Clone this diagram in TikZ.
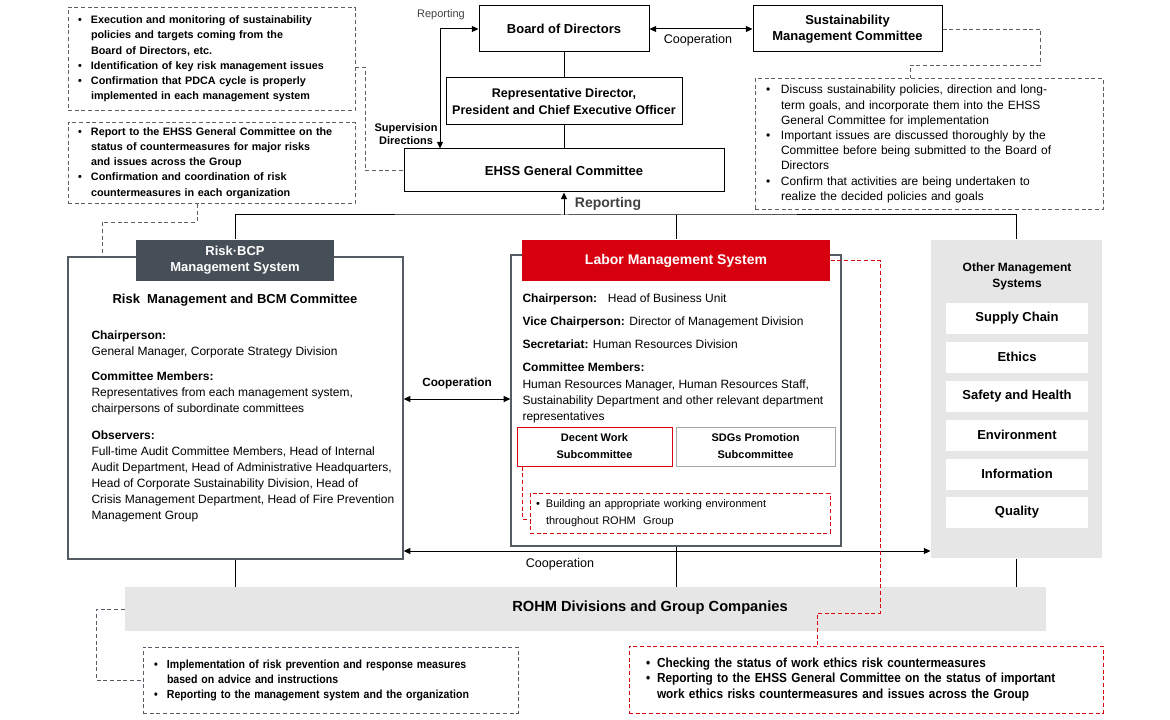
\documentclass[tikz,border=0pt]{standalone}
\usepackage{fontspec}
\setmainfont{Liberation Sans}
\newfontfamily\condfont{Liberation Sans}[FakeStretch=0.9]
\usetikzlibrary{arrows.meta}
\definecolor{rohmred}{HTML}{D7000F}
\definecolor{slate}{HTML}{464F57}
\definecolor{panel}{HTML}{E6E6E6}
\definecolor{framegray}{HTML}{555C66}
\definecolor{dashgray}{HTML}{5F5F5F}
\definecolor{labelgray}{HTML}{404040}
\setlength\parindent{0pt}
\newlength\bulw
\setlength\bulw{9.75pt}
\newcommand\bulitem{\makebox[\bulw][l]{\textbullet}}
\newcommand\bulcont{\hspace*{\bulw}}

\begin{document}
\begin{tikzpicture}[x=0.75pt,y=-0.75pt,line width=0.75pt,
  >={Triangle[length=5pt,width=4.5pt]},
  sz/.style 2 args={minimum width=#1*0.75pt,minimum height=#2*0.75pt},
  topbox/.style={draw,inner sep=0pt,align=center,font=\bfseries\fontsize{9.75}{12}\selectfont},
  sysframe/.style={draw=framegray,line width=1pt,inner sep=0pt},
  note/.style={draw=dashgray,dash pattern=on 3pt off 2pt,line width=0.7pt,inner sep=0pt,align=left,font=\bfseries\fontsize{8.1}{11.4}\selectfont},
  rednote/.style={note,draw=rohmred},
  bw/.style={execute at begin node={\setlength\bulw{#1}}},
  gdash/.style={draw=dashgray,dash pattern=on 3pt off 2pt,line width=0.7pt},
  rdash/.style={gdash,draw=rohmred},
  lbl/.style={inner sep=0pt,font=\fontsize{9.4}{11}\selectfont},
  head/.style={inner sep=0pt,align=center,text=white,font=\bfseries\fontsize{9.75}{12}\selectfont},
  body/.style={inner sep=0pt,align=left,anchor=north west,font=\fontsize{9}{12}\selectfont},
  sysitem/.style={fill=white,inner sep=0pt,sz={142}{31},font=\bfseries\fontsize{9.75}{12}\selectfont},
  subbox/.style={draw,inner sep=0pt,align=center,sz={155}{39},font=\bfseries\fontsize{8.25}{12.75}\selectfont}]
  \useasboundingbox (0,0) rectangle (1170,720);

  \node[topbox,sz={170}{46}] (board) at (564,29) {Board of Directors};
  \node[topbox,sz={189}{46}] (smc) at (847.5,29) {Sustainability\\Management Committee};
  \node[topbox,sz={236}{47},font=\bfseries\fontsize{9.4}{12.5}\selectfont] (ceo) at (564,101.5) {Representative Director,\\President and Chief Executive Officer};
  \node[topbox,sz={320}{43}] (ehss) at (564,170.5) {EHSS General Committee};

  \node[note,sz={287}{103},text width=200.25pt] (goals) at (211.5,59) {\bulitem Execution and monitoring of sustainability\\ \bulcont policies and targets coming from the\\ \bulcont Board of Directors, etc.\\ \bulitem Identification of key risk management issues\\ \bulitem Confirmation that PDCA cycle is properly\\ \bulcont implemented in each management system};
  \node[note,sz={287}{81},text width=200.25pt] (report) at (211.5,163) {\bulitem Report to the EHSS General Committee on the\\ \bulcont status of countermeasures for major risks\\ \bulcont and issues across the Group\\ \bulitem Confirmation and coordination of risk\\ \bulcont countermeasures in each organization};
  \node[note,bw=11.25pt,sz={348}{131},text width=244.5pt,font=\fontsize{9}{11.4}\selectfont] (discuss) at (929,144) {\bulitem Discuss sustainability policies, direction and long-\\ \bulcont term goals, and incorporate them into the EHSS\\ \bulcont General Committee for implementation\\ \bulitem Important issues are discussed thoroughly by the\\ \bulcont Committee before being submitted to the Board of\\ \bulcont Directors\\ \bulitem Confirm that activities are being undertaken to\\ \bulcont realize the decided policies and goals};

  \node[sysframe,sz={335}{302}] (risk) at (235.5,408) {};
  \node[head,fill=slate,sz={198}{41}] (riskhd) at (235,260.5) {Risk·BCP\\Management System};
  \node[inner sep=0pt,font=\bfseries\fontsize{9.75}{12}\selectfont] (bcm) at (235,300) {Risk~ Management and BCM Committee};
  \node[body] (riskbody) at (91,330.5) {\textbf{Chairperson:}\\
    General Manager, Corporate Strategy Division\\[6.75pt]
    \textbf{Committee Members:}\\
    Representatives from each management system,\\
    chairpersons of subordinate committees\\[8pt]
    \textbf{Observers:}\\
    Full-time Audit Committee Members, Head of Internal\\
    Audit Department, Head of Administrative Headquarters,\\
    Head of Corporate Sustainability Division, Head of\\
    Crisis Management Department, Head of Fire Prevention\\
    Management Group};

  \node[sysframe,sz={330}{291}] (labor) at (676,400.5) {};
  \node[head,fill=rohmred,sz={308}{41},font=\bfseries\fontsize{10.5}{12}\selectfont] (laborhd) at (676,260.5) {Labor Management System};
  \node[body] (laborbody) at (522,293.5) {\textbf{Chairperson:}\hspace{8pt}Head of Business Unit\\[5.25pt]
    \textbf{Vice Chairperson:} Director of Management Division\\[5.25pt]
    \textbf{Secretariat:} Human Resources Division\\[5.25pt]
    \textbf{Committee Members:}\\[0.75pt]
    Human Resources Manager, Human Resources Staff,\\
    Sustainability Department and other relevant department\\
    representatives};
  \node[subbox,draw=rohmred] (decent) at (594.5,446.5) {Decent Work\\Subcommittee};
  \node[subbox,draw=gray!70,sz={159}{39}] (sdgs) at (755.5,446.5) {SDGs Promotion\\Subcommittee};
  \node[rednote,bw=7.5pt,sz={300}{40},text width=216pt,font=\fontsize{8.25}{12.75}\selectfont] (workenv) at (680,513) {\bulitem Building an appropriate working environment\\ \bulcont throughout ROHM~ Group};

  \node[fill=panel,inner sep=0pt,sz={171}{318}] (others) at (1016.5,399) {};
  \node[inner sep=0pt,align=center,font=\bfseries\fontsize{9}{12}\selectfont] (othtitle) at (1017,276) {Other Management\\Systems};
  \node[sysitem] (supply) at (1017,318.5) {Supply Chain};
  \node[sysitem] (ethics) at (1017,357) {Ethics};
  \node[sysitem] (safety) at (1017,396) {Safety and Health};
  \node[sysitem] (environ) at (1017,435) {Environment};
  \node[sysitem] (info) at (1017,474) {Information};
  \node[sysitem] (quality) at (1017,512.5) {Quality};

  \node[fill=panel,inner sep=0pt,sz={921}{44}] (rohm) at (585.5,609) {};
  \node[inner sep=0pt,font=\bfseries\fontsize{11}{13}\selectfont] (rohmname) at (650,608) {ROHM Divisions and Group Companies};

  \node[note,draw=framegray,sz={375}{66},text width=264.75pt,font=\condfont\bfseries\fontsize{8.8}{11.25}\selectfont] (measures) at (330.5,680) {\bulitem Implementation of risk prevention and response measures\\ \bulcont based on advice and instructions\\ \bulitem Reporting to the management system and the organization};
  \node[rednote,bw=8.25pt,sz={474}{67},text width=330pt,font=\condfont\bfseries\fontsize{9.85}{11.6}\selectfont] (ethicsnote) at (866,679.5) {\bulitem Checking the status of work ethics risk countermeasures\\ \bulitem Reporting to the EHSS General Committee on the status of important\\ \bulcont work ethics risks countermeasures and issues across the Group};

  \node[lbl,text=labelgray,font=\fontsize{8.25}{10}\selectfont] (rep1) at (441,15) {Reporting};
  \node[lbl,align=center,font=\bfseries\fontsize{8.25}{9.75}\selectfont] (superv) at (406,134) {Supervision\\Directions};
  \node[lbl] (coop1) at (698,40) {Cooperation};
  \node[lbl,text=labelgray,font=\bfseries\fontsize{10.5}{12}\selectfont] (rep2) at (608,204) {Reporting};
  \node[lbl,font=\bfseries\fontsize{8.85}{11}\selectfont] (coop2) at (457,383) {Cooperation};
  \node[lbl] (coop3) at (560,564) {Cooperation};

  \draw[<->] (board.east) -- (smc.west);
  \draw (board.south) -- (ceo.north);
  \draw (ceo.south) -- (ehss.north);
  \coordinate (sv) at (440,29);
  \draw[<->] (board.west) -- (sv) -- (sv |- ehss.north);
  \coordinate (bus) at (564,215);
  \draw[->] (bus) -- (ehss.south);
  \draw (riskhd.north) |- (bus) -| (others.north);
  \draw (laborhd.north |- bus) -- (laborhd.north);
  \coordinate (c2) at (457,399);
  \draw[<->] (risk.east |- c2) -- (labor.west |- c2);
  \coordinate (c3) at (560,551);
  \draw[<->] (risk.east |- c3) -- (others.west |- c3);
  \draw (risk.south) -- (risk.south |- rohm.north);
  \draw (labor.south) -- (labor.south |- rohm.north);
  \draw (others.south) -- (others.south |- rohm.north);

  \coordinate (d1) at (365,67);
  \draw[gdash] (goals.east |- d1) -- (d1) |- (ehss.west);
  \coordinate (d2a) at (197,222);
  \coordinate (d2b) at (102,222);
  \draw[gdash] (d2a |- report.south) -- (d2a) -- (d2b) -- (d2b |- risk.north);
  \coordinate (d3a) at (1040,65);
  \coordinate (d3b) at (910,65);
  \draw[gdash] (smc.east) -| (d3a) -- (d3b) -- (d3b |- discuss.north);
  \coordinate (d4a) at (880,613);
  \coordinate (d4b) at (817,613);
  \draw[rdash] (laborhd.east) -| (d4a) -- (d4b) -- (d4b |- ethicsnote.north);
  \coordinate (d5) at (522,519);
  \draw[rdash] (d5 |- decent.south) -- (d5) -- (workenv.west |- d5);
  \coordinate (d6) at (96,680);
  \draw[gdash,draw=framegray] (rohm.west) -| (d6) -- (measures.west);
\end{tikzpicture}
\end{document}
